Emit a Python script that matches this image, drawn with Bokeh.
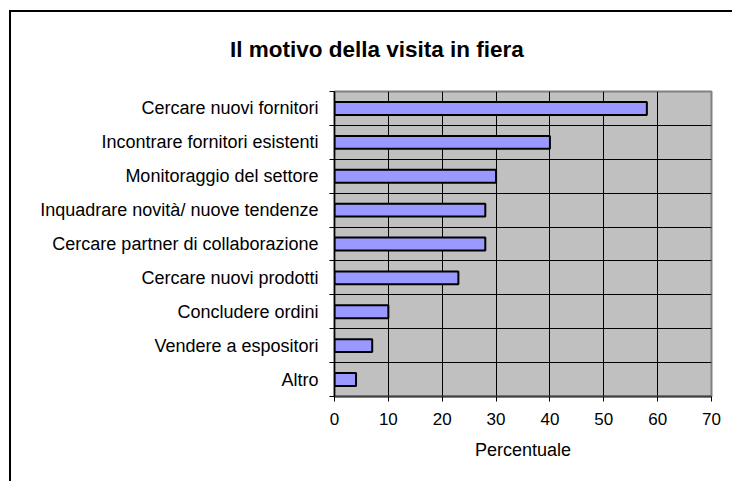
from bokeh.plotting import figure
from bokeh.models import FixedTicker, Range1d, ColumnDataSource, Div
from bokeh.layouts import column
from bokeh.embed import file_html
from bokeh.resources import INLINE

title_text = "Il motivo della visita in fiera"
categories = [
    "Cercare nuovi fornitori",
    "Incontrare fornitori esistenti",
    "Monitoraggio del settore",
    "Inquadrare novità/ nuove tendenze",
    "Cercare partner di collaborazione",
    "Cercare nuovi prodotti",
    "Concludere ordini",
    "Vendere a espositori",
    "Altro",
]
values = [58, 40, 30, 28, 28, 23, 10, 7, 4]
x_ticks = [0, 10, 20, 30, 40, 50, 60, 70]

n = len(categories)
centers = [n - i - 0.5 for i in range(n)]
bounds = list(range(0, n + 1))

FONT = "Liberation Sans"

p = figure(width=721, height=414, output_backend="svg", toolbar_location=None,
           x_range=Range1d(0, 70), y_range=Range1d(0, n),
           min_border_left=323, min_border_right=21, min_border_top=24, min_border_bottom=85)

p.background_fill_color = "#C0C0C0"
p.border_fill_color = "white"
p.outline_line_color = "#808080"
p.outline_line_width = 2

src = ColumnDataSource(dict(y=centers, v=values))
p.hbar(y="y", left=0, right="v", height=0.38, source=src,
       fill_color="#9999FF", line_color="black", line_width=2)

# x axis
p.xaxis.ticker = FixedTicker(ticks=x_ticks)
p.xaxis.major_tick_out = 5
p.xaxis.major_tick_in = 0
p.xaxis.minor_tick_out = 0
p.xaxis.minor_tick_in = 0
p.xaxis.axis_line_color = "#404040"
p.xaxis.axis_line_width = 2
p.xaxis.major_tick_line_color = "black"
p.xaxis.major_label_text_font = FONT
p.xaxis.major_label_text_font_size = "17px"
p.xaxis.major_label_text_color = "black"
p.xaxis.major_label_standoff = 11
p.xaxis.axis_label = "Percentuale"
p.xaxis.axis_label_text_font = FONT
p.xaxis.axis_label_text_font_size = "18px"
p.xaxis.axis_label_text_font_style = "normal"
p.xaxis.axis_label_text_color = "black"
p.xaxis.axis_label_standoff = 12

# y axis
p.yaxis.ticker = FixedTicker(ticks=centers, minor_ticks=bounds)
p.yaxis.major_label_overrides = {c: lab for c, lab in zip(centers, categories)}
p.yaxis.major_tick_out = 0
p.yaxis.major_tick_in = 0
p.yaxis.minor_tick_out = 5
p.yaxis.minor_tick_in = 0
p.yaxis.minor_tick_line_color = "black"
p.yaxis.axis_line_color = "black"
p.yaxis.axis_line_width = 1.5
p.yaxis.major_label_text_font = FONT
p.yaxis.major_label_text_font_size = "18px"
p.yaxis.major_label_text_color = "black"
p.yaxis.major_label_standoff = 11

# grids
p.xgrid.ticker = FixedTicker(ticks=x_ticks[1:-1])
p.xgrid.grid_line_color = "black"
p.xgrid.grid_line_width = 1
p.ygrid.ticker = FixedTicker(ticks=bounds[1:-1])
p.ygrid.grid_line_color = "black"
p.ygrid.grid_line_width = 1

# chart title, centred over the whole chart area
title = Div(text=title_text, width=721, height=55, margin=0,
            styles={"font-family": "'Liberation Sans'", "font-size": "22.5px",
                    "font-weight": "bold", "color": "black", "line-height": "27px",
                    "padding-top": "24px", "padding-left": "219px",
                    "box-sizing": "border-box", "white-space": "nowrap"})

layout = column(title, p, spacing=0,
                styles={"border-left": "2px solid black", "border-top": "2px solid black",
                        "margin-left": "9px", "margin-top": "10px"})

open("out.html", "w").write(file_html(layout, INLINE))
